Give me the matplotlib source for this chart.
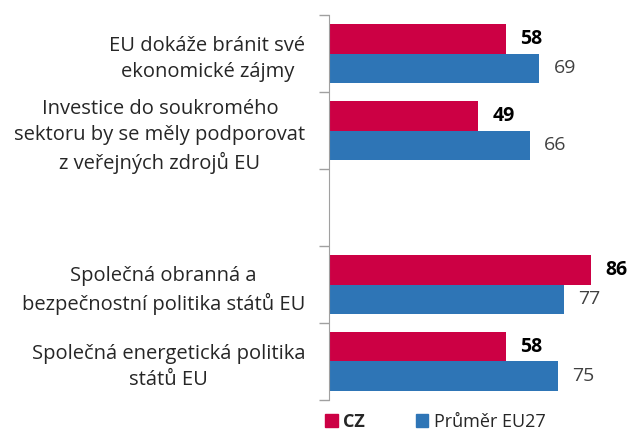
import matplotlib.pyplot as plt
from matplotlib.patches import Patch

plt.rcParams['font.family'] = ['Open Sans', 'DejaVu Sans']

# Data (top to bottom, None = empty gap row)
labels = [
    "EU dokáže bránit své\nekonomické zájmy",
    "Investice do soukromého\nsektoru by se měly podporovat\nz veřejných zdrojů EU",
    "",
    "Společná obranná a\nbezpečnostní politika států EU",
    "Společná energetická politika\nstátů EU",
]
cz = [58, 49, None, 86, 58]
eu27 = [69, 66, None, 77, 75]

red = "#CC0044"
blue = "#2E75B6"

W, H = 629, 430
fig = plt.figure(figsize=(W / 100, H / 100), dpi=100)
ax = fig.add_axes([329 / W, 1 - 400 / H, 300 / W, 385 / H])

h = 0.383
for i in range(len(labels)):
    if cz[i] is None:
        continue
    ax.barh(i - h / 2, cz[i], height=h, color=red)
    ax.barh(i + h / 2, eu27[i], height=h, color=blue)
    ax.text(cz[i] + 4.6, i - h / 2, str(cz[i]), va="center", ha="left",
            fontsize=14, fontweight="bold", color="black")
    ax.text(eu27[i] + 4.6, i + h / 2, str(eu27[i]), va="center", ha="left",
            fontsize=14, color="#404040")

ax.set_xlim(0, 300 / 3.05)
ax.set_ylim(len(labels) - 0.5, -0.5)

ax.set_yticks(range(len(labels)))
ax.set_yticklabels(labels, fontsize=14.5, color="#262626")
for t in ax.get_yticklabels():
    t.set_multialignment("center")
    t.set_linespacing(1.42)
ax.tick_params(axis="y", which="major", length=0, pad=17)
ax.set_yticks([i - 0.5 for i in range(len(labels) + 1)], minor=True)
ax.tick_params(axis="y", which="minor", length=7, color="#A0A0A0", width=1)

ax.set_xticks([])
for s in ["top", "right", "bottom"]:
    ax.spines[s].set_visible(False)
ax.spines["left"].set_color("#A0A0A0")

handles = [Patch(color=red), Patch(color=blue)]
leg = fig.legend(handles, ["CZ", "Průměr EU27"], loc="center left",
                 bbox_to_anchor=(318 / W, 1 - 422 / H), ncol=2, frameon=False,
                 handlelength=0.7, handleheight=0.7, handletextpad=0.3,
                 columnspacing=2.8, fontsize=13, borderaxespad=0)
leg.get_texts()[0].set_fontweight("bold")
for t in leg.get_texts():
    t.set_color("#262626")

fig.savefig("out.png", dpi=100)
